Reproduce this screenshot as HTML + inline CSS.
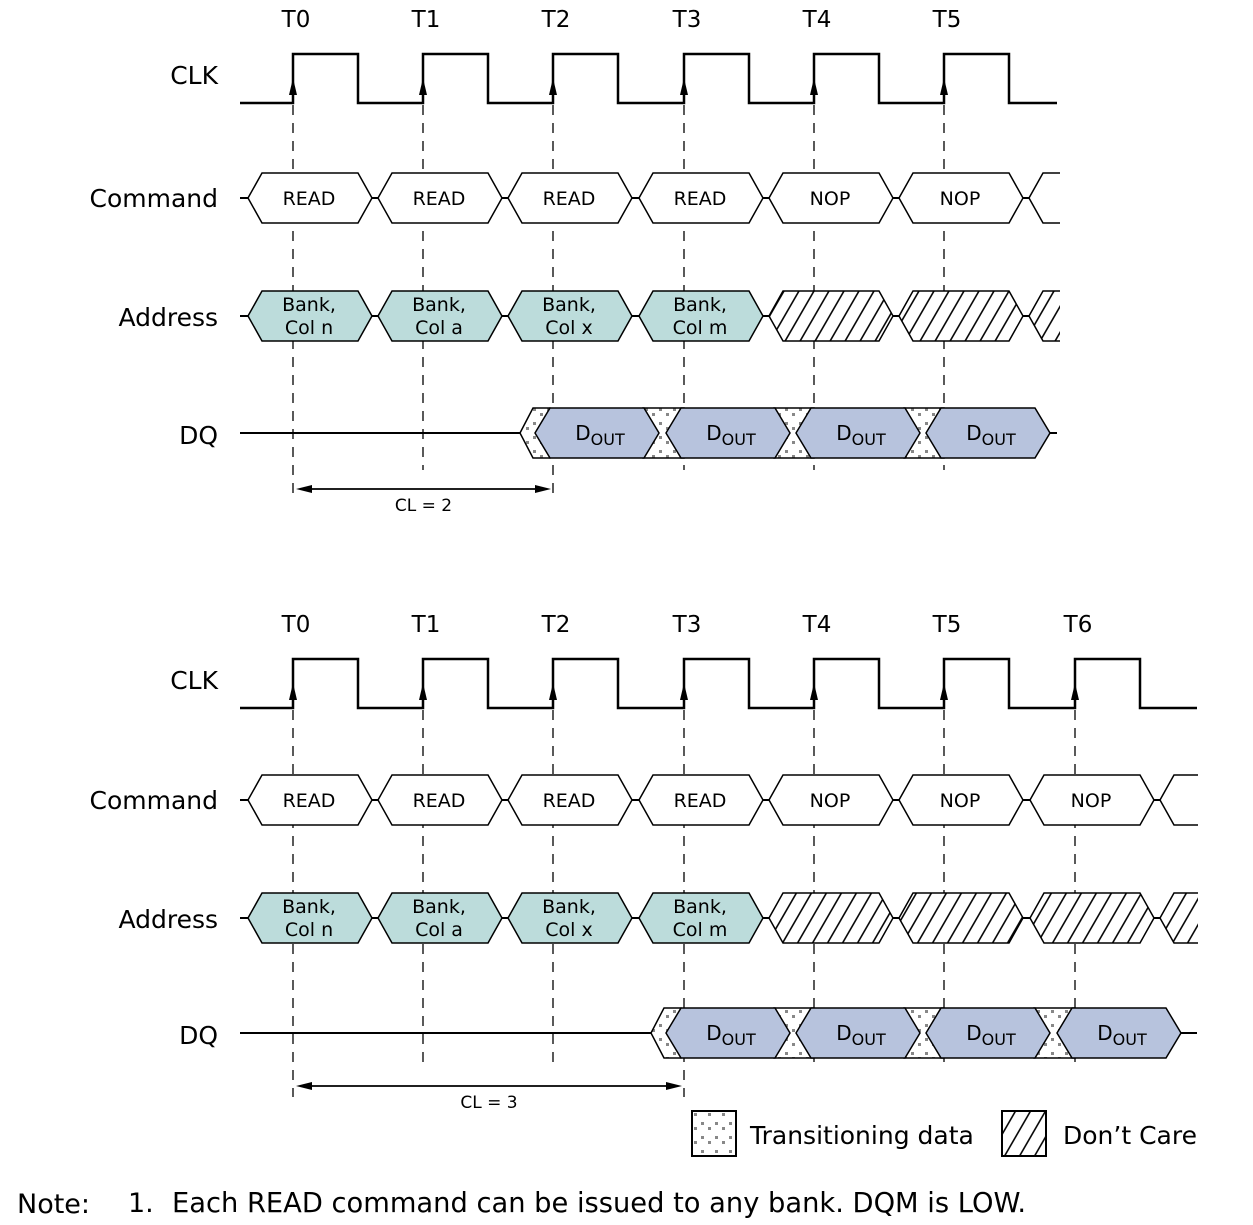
<!DOCTYPE html>
<html><head><meta charset="utf-8"><style>
html,body{margin:0;padding:0;background:#fff;}
svg{display:block;font-family:"DejaVu Sans","Liberation Sans",sans-serif;}
</style></head><body>
<svg id="chart" width="1253" height="1225" viewBox="0 0 1253 1225" xmlns="http://www.w3.org/2000/svg">
<defs>
<pattern id="dots" width="14" height="14" patternUnits="userSpaceOnUse">
<rect width="14" height="14" fill="#fff"/>
<rect x="1" y="2" width="3" height="3" fill="#888"/>
<rect x="8" y="7" width="3" height="3" fill="#888"/>
</pattern>
<pattern id="hatch" width="15" height="60" patternUnits="userSpaceOnUse" patternTransform="skewX(-30)">
<rect width="15" height="60" fill="#fff"/>
<line x1="7" y1="0" x2="7" y2="60" stroke="#000" stroke-width="1.8"/>
</pattern>
<clipPath id="clipTop"><rect x="0" y="0" width="1060" height="600"/></clipPath>
<clipPath id="clipBot"><rect x="0" y="600" width="1198" height="625"/></clipPath>
</defs>
<g id="g"></g>
</svg>
<script>
const edgeLabels = ["T0","T1","T2","T3","T4","T5","T6"];
const edges = [293,423,553,684,814,944,1075];
const commands = ["READ","READ","READ","READ","NOP","NOP","NOP"];
const addr1 = ["Bank,","Bank,","Bank,","Bank,"];
const addr2 = ["Col n","Col a","Col x","Col m"];
const casLatency = [2,3];
const NS="http://www.w3.org/2000/svg";
const root=document.getElementById('g');
function el(tag,attrs,parent,txt){const e=document.createElementNS(NS,tag);for(const k in attrs)e.setAttribute(k,attrs[k]);if(txt!==undefined)e.textContent=txt;(parent||root).appendChild(e);return e;}
function hex(x0,x1,cy,h,slant){const t=cy-h/2,b=cy+h/2;return `${x0},${cy} ${x0+slant},${t} ${x1-slant},${t} ${x1},${cy} ${x1-slant},${b} ${x0+slant},${b}`;}

function diagram(d,nEdges,endX,clip,cl){
  const G=el('g',{'clip-path':'url(#'+clip+')'});
  
  
  const oC=d?605:0,oR=d?602:0,oD=d?600:0;
  const dqStart=cl;
  const labs=[["CLK",75+oC],["Command",198+oR],["Address",317+oR],["DQ",435+oD]];
  labs.forEach(l=>{const t=el('text',{x:218,y:l[1]+9,'text-anchor':'end','font-size':25,fill:'#000'},G,l[0]);
    });
  for(let i=0;i<nEdges;i++){const e=edges[i];const long=(i===0||i===cl);
    const ln=el('line',{x1:e,y1:105+oC,x2:e,y2:(long?497:470)+oD,stroke:'#000','stroke-width':1.3,'stroke-dasharray':'10,8'},G);
    
    const tl=el('text',{x:e+3,y:27+oC,'text-anchor':'middle','font-size':23},G,edgeLabels[i]);
    }
  let p=`M240,${103+oC}`;
  for(let i=0;i<nEdges;i++){const e=edges[i];p+=` L${e},${103+oC} L${e},${54+oC} L${e+65},${54+oC} L${e+65},${103+oC}`;}
  p+=` L${endX},${103+oC}`;
  const ck=el('path',{d:p,fill:'none',stroke:'#000','stroke-width':2.5},G);
  
  for(let i=0;i<nEdges;i++){const e=edges[i];el('polygon',{points:`${e-4},${95+oC} ${e+4},${95+oC} ${e},${78+oC}`,fill:'#000'},G);}
  [[198+oR,'cmd'],[316+oR,'addr']].forEach(([cy,kind])=>{
    el('line',{x1:240,y1:cy,x2:endX+10,y2:cy,stroke:'#000','stroke-width':2},G);
    for(let i=0;i<=nEdges;i++){const e=i<nEdges?edges[i]:edges[nEdges-1]+130;
      let fill='#fff';if(kind==='addr')fill=i<4?'#bcdcdb':'url(#hatch)';
      const h=el('polygon',{points:hex(e-45,e+79,cy,50,14),fill:fill,stroke:'#000','stroke-width':1.5},G);
      
      
      if(kind==='cmd'&&i<nEdges){el('text',{x:e+16,y:cy+7,'text-anchor':'middle','font-size':19},G,commands[i]);}
      if(kind==='addr'&&i<4){el('text',{x:e+16,y:cy-5,'text-anchor':'middle','font-size':19},G,addr1[i]);
        el('text',{x:e+16,y:cy+18,'text-anchor':'middle','font-size':19},G,addr2[i]);}
    }
  });
  const cy=433+oD;const e0=edges[dqStart];const last=edges[nEdges-1];
  el('line',{x1:240,y1:cy,x2:e0-33,y2:cy,stroke:'#000','stroke-width':2},G);
  el('line',{x1:last+106,y1:cy,x2:endX,y2:cy,stroke:'#000','stroke-width':2},G);
  const tr=el('polygon',{points:hex(e0-33,e0+10,cy,50,13),fill:'url(#dots)',stroke:'#000','stroke-width':1.5},G);
  
  for(let i=dqStart;i<nEdges-1;i++){const e=edges[i];
    const r=el('rect',{x:e+90,y:cy-25,width:edges[i+1]-e-90,height:50,fill:'url(#dots)',stroke:'#000','stroke-width':1.5},G);
    }
  for(let i=dqStart;i<nEdges;i++){const e=edges[i];
    const h=el('polygon',{points:hex(e-18,e+106,cy,50,15),fill:'#b7c3dd',stroke:'#000','stroke-width':1.5},G);
    
    const t=el('text',{x:e+47,y:cy+7,'text-anchor':'middle','font-size':20},G);
    el('tspan',{},t,'D');el('tspan',{'font-size':16,dy:5},t,'OUT');}
  const ay=(d?1086:489);const x0=edges[0]+3,x1=edges[cl]-2;
  const ar=el('line',{x1:x0+14,y1:ay,x2:x1-14,y2:ay,stroke:'#000','stroke-width':1.8},G);
  
  el('polygon',{points:`${x0},${ay} ${x0+16},${ay-4} ${x0+16},${ay+4}`,fill:'#000'},G);
  el('polygon',{points:`${x1},${ay} ${x1-16},${ay-4} ${x1-16},${ay+4}`,fill:'#000'},G);
  const cl_t=el('text',{x:(x0+x1)/2,y:ay+22,'text-anchor':'middle','font-size':17},G,'CL = '+cl);
  
}
diagram(0,6,1057,'clipTop',casLatency[0]);
diagram(1,7,1197,'clipBot',casLatency[1]);
const lg=el('g',{});

el('rect',{x:692,y:1111,width:44,height:45,fill:'url(#dots)',stroke:'#000','stroke-width':2},lg);
el('text',{x:750,y:1144,'font-size':25},lg,'Transitioning data');
el('rect',{x:1002,y:1111,width:44,height:45,fill:'url(#hatch)',stroke:'#000','stroke-width':2},lg);
el('text',{x:1063,y:1144,'font-size':25},lg,'Don\u2019t Care');
const nt=el('text',{x:17,y:1213,'font-size':27},null,'Note:');

const nn=el('text',{x:128,y:1212,'font-size':27},null,'1.');

const nt2=el('text',{x:172,y:1212,'font-size':27.3},null,'Each READ command can be issued to any bank. DQM is LOW.');

</script>
</body></html>
